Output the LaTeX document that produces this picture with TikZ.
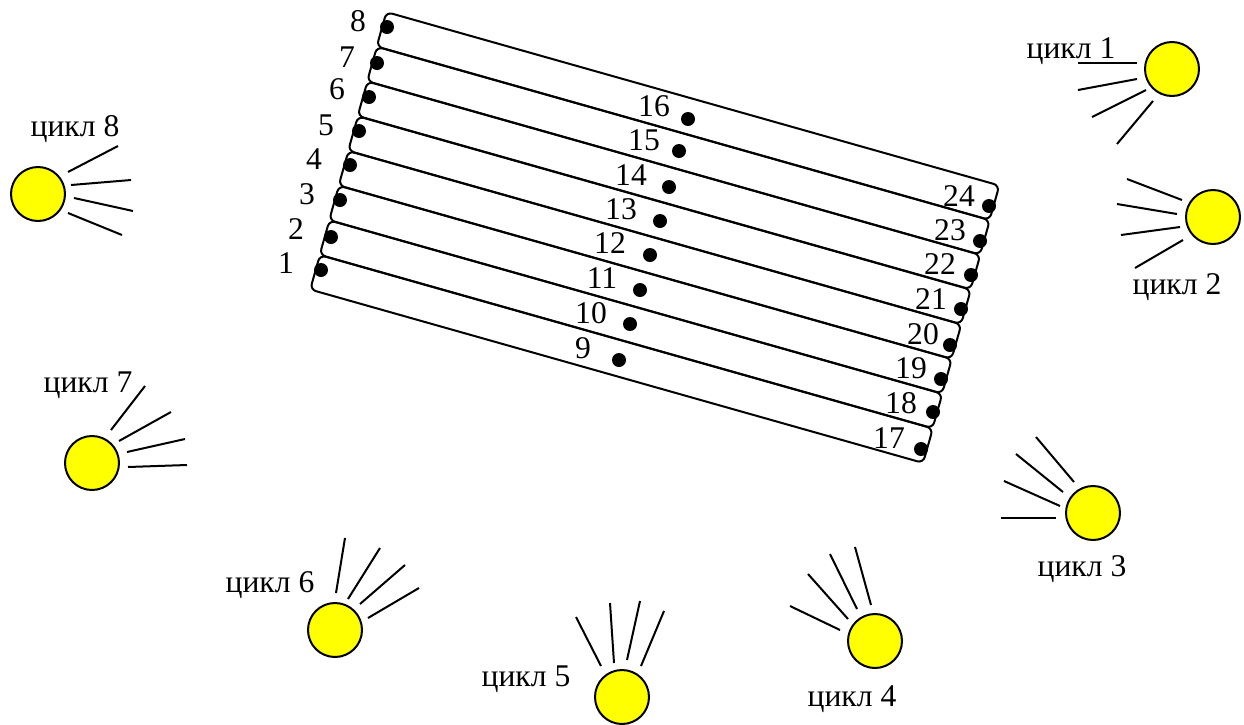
\documentclass[tikz,border=0pt]{standalone}
\usepackage{fontspec}
\setmainfont{Liberation Serif}
\usepackage{xcolor}
\usepackage{tikz}
\definecolor{sunyellow}{HTML}{FFFF00}
\tikzset{
  stripbox/.style={draw=black,line width=1pt,rounded corners=3pt,rotate=-15.8,minimum width=318.5pt,minimum height=17.9pt,inner sep=0pt},
  pindot/.style={circle,fill=black,minimum size=7pt,inner sep=0pt},
  numtext/.style={font=\fontsize{15.8}{15.8}\selectfont,inner sep=0pt},
  cycletext/.style={font=\fontsize{15.8}{15.8}\selectfont,inner sep=0pt,yshift=-0.8pt},
  sunnode/.style={circle,draw=black,line width=1pt,fill=sunyellow,minimum size=27pt,inner sep=0pt},
  rayline/.style={black,line width=1pt}
}

\begin{document}
\begin{tikzpicture}[x=0.5pt,y=-0.5pt]
  \useasboundingbox (0,0) rectangle (1244,724);
  % strips, bottom one first
  \foreach \n/\cx/\cy in {1/621.5/359,2/631/324.3,3/640.5/289.6,4/650/254.9,5/659.5/220.2,6/669/185.4,7/678.5/150.7,8/688/116}
    \node[stripbox] (strip\n) at (\cx,\cy) {};
  % pins
  \foreach \n/\px/\py in {1/321/270,2/331/237,3/340/200,4/350/165,5/359/131,6/369/97,7/377/63,8/387/27,
    9/619/360,10/630/324,11/640/290,12/650/255,13/660/221,14/669/187,15/679/151,16/688/119,
    17/921/449,18/933/412,19/941/379,20/950/345,21/961/309,22/971/275,23/980/241,24/989/206}
    \node[pindot] (pin\n) at (\px,\py) {};
  % pin numbers
  \foreach \n/\px/\py in {1/286/263,2/296/229,3/307/194,4/314/159,5/326/125,6/337/89,7/347/57,8/358/21,
    9/583/348,10/591/313,11/602/278,12/610/243,13/621/209,14/631/175,15/644/140,16/654/106,
    17/889/438,18/901/403,19/911/368,20/923/334,21/931/299,22/940/264,23/950/230,24/959/196}
    \node[numtext] (num\n) at (\px,\py) {\n};
  % suns
  \foreach \n/\px/\py in {1/1172/69,2/1213/217,3/1093/513,4/875/641,5/622/697,6/335/630,7/92/463,8/38/194}
    \node[sunnode] (sun\n) at (\px,\py) {};
  % cycle labels
  \foreach \n/\px/\py in {1/1071/50,2/1177/285,3/1082/567,4/852/698,5/526/678,6/270/583,7/88/384,8/75/127}
    \node[cycletext] (cycle\n) at (\px,\py) {цикл \n};
  % rays
  \foreach \ax/\ay/\bx/\by in {1078/63/1137/63,1078/90/1137/79,1092/117/1146/90,1117/144/1153/101,
    1127/179/1182/200,1117/204/1177/214,1121/235/1180/227,1135/268/1183/240,
    1001/518/1056/518,1004/481/1060/506,1016/454/1063/492,1036/437/1074/482,
    790/606/840/630,808/574/848/619,830/554/857/609,855/547/871/605,
    576/617/601/666,610/603/614/663,640/601/627/660,664/611/641/666,
    345/538/336/593,380/548/348/599,405/565/360/604,419/588/368/618,
    145/386/111/430,171/412/119/441,185/439/127/452,187/465/128/467,
    118/146/68/172,131/180/71/185,133/211/74/198,122/235/68/213}
    \draw[rayline] (\ax,\ay) -- (\bx,\by);
\end{tikzpicture}
\end{document}
